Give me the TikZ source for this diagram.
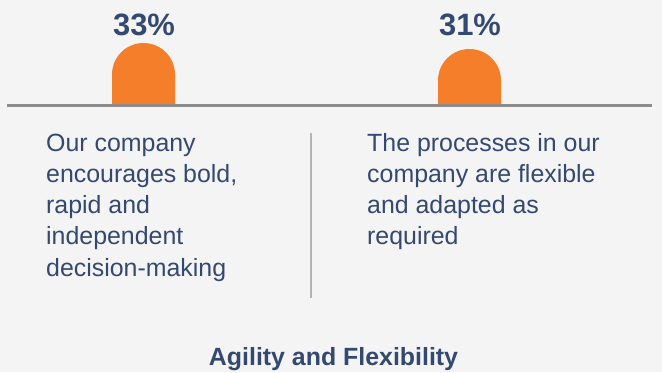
\documentclass[tikz,border=0pt]{standalone}
\usepackage{fontspec}
\setmainfont{Liberation Sans}
\definecolor{bgc}{HTML}{F4F4F4}
\definecolor{navy}{HTML}{33496F}
\definecolor{orng}{HTML}{F57E2B}
\definecolor{axisgray}{HTML}{8C8C8C}
\definecolor{divgray}{HTML}{B4B4B4}
\tikzset{
  body/.style={anchor=base west, inner sep=0pt, text=navy, font=\fontsize{25}{30}\selectfont},
  pct/.style={anchor=base, inner sep=0pt, text=navy, font=\fontsize{31}{36}\selectfont\bfseries},
  ttl/.style={anchor=base, inner sep=0pt, text=navy, font=\fontsize{25}{30}\selectfont\bfseries},
  bar/.style={fill=orng},
}
\begin{document}
\begin{tikzpicture}[x=1bp,y=1bp]
\useasboundingbox (0,0) rectangle (662,372);
\fill[bgc] (0,0) rectangle (662,372);
% bars
\fill[bar] (112,267) -- (112,297.5) arc[start angle=180,end angle=0,radius=31.5bp] -- (175,267) -- cycle;
\fill[bar] (438,267) -- (438,291.5) arc[start angle=180,end angle=0,radius=31.5bp] -- (501,267) -- cycle;
% axis
\coordinate (axl) at (7,267);
\coordinate (axr) at (652,267);
\draw[axisgray, line width=3bp] (axl) -- (axr);
% divider
\coordinate (dvt) at (311,239);
\coordinate (dvb) at (311,74);
\draw[divgray, line width=2bp] (dvt) -- (dvb);
% percentages
\node[pct] (p1) at (144,337) {33\%};
\node[pct] (p2) at (470,337) {31\%};
% left text
\node[body] (l1) at (46,221) {Our company};
\node[body] (l2) at (46,189.7) {encourages bold,};
\node[body] (l3) at (46,158.4) {rapid and};
\node[body] (l4) at (46,127.1) {independent};
\node[body] (l5) at (46,95.8) {decision-making};
% right text
\node[body] (r1) at (367,221) {The processes in our};
\node[body] (r2) at (367,189.7) {company are flexible};
\node[body] (r3) at (367,158.4) {and adapted as};
\node[body] (r4) at (367,127.1) {required};
% title
\node[ttl] (t) at (333.5,7) {Agility and Flexibility};
\end{tikzpicture}
\end{document}
